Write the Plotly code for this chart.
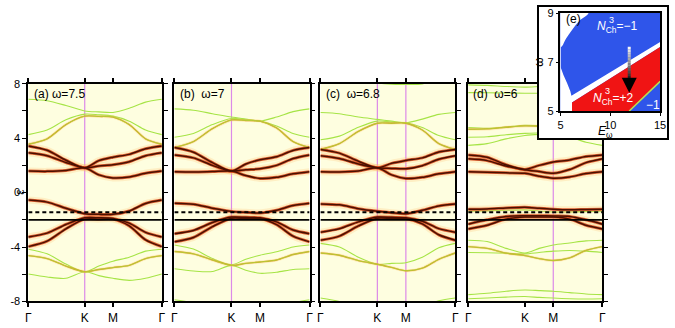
import plotly.graph_objects as go

# k-path Γ-K-M-Γ (path length in units of 1/a)
K_SAMPLE = [0, 0.444, 0.889, 1.333, 1.667, 2.0, 2.385, 2.770, 3.155]
K_TICKS = [0, 1.333, 2.0, 3.155]
K_LABELS = ['Γ', 'K', 'M', 'Γ']
E_TICKS = [-8, -6, -4, -2, 0, 2, 4, 6, 8]
E_LABELS = ['-8', '', '-4', '', '0', '', '4', '', '8']

PANEL_TAGS = ['(a) ω=7.5', '(b)  ω=7', '(c)  ω=6.8', '(d)  ω=6']
MAGENTA_K = [[1.333], [1.333], [1.333, 2.0], [2.0]]
E_DASH = -1.45
E_SOLID = -2.0

# (a) ω=7.5
A_DARK = [
    [3.43, 3.11, 2.38, 1.82, 2.35, 2.6, 2.81, 3.22, 3.43],
    [2.93, 2.71, 2.21, 1.82, 1.95, 2.05, 2.27, 2.71, 2.93],
    [1.58, 1.56, 1.62, 1.82, 1.3, 1.08, 1.15, 1.42, 1.58],
    [-0.55, -0.7, -1.15, -1.55, -1.6, -1.6, -1.35, -0.8, -0.55],
    [-3.26, -2.98, -2.34, -1.85, -1.85, -1.9, -2.24, -2.92, -3.26],
    [-3.97, -3.57, -2.66, -1.95, -1.95, -1.95, -2.45, -3.47, -3.97],
]
A_MID = [
    [3.55, 3.95, 5.0, 5.62, 5.6, 5.55, 5.0, 3.95, 3.55],
    [-4.63, -4.85, -5.4, -5.82, -5.65, -5.51, -5.35, -4.85, -4.63],
]
A_GREEN = [
    [6.86, 6.75, 6.4, 6.0, 5.93, 5.89, 6.2, 6.65, 6.86],
    [4.26, 4.6, 5.35, 5.77, 5.72, 5.62, 5.25, 4.6, 4.26],
    [-4.16, -4.5, -5.25, -5.82, -5.4, -5.04, -4.75, -4.3, -4.16],
    [-5.98, -6.2, -6.3, -5.82, -6.1, -6.3, -6.45, -6.3, -5.98],
]

# (b) ω=7
B_DARK = [
    [3.31, 2.97, 2.2, 1.58, 2.1, 2.41, 2.63, 3.1, 3.31],
    [2.77, 2.55, 2.0, 1.58, 1.68, 1.75, 2.0, 2.5, 2.77],
    [1.54, 1.52, 1.55, 1.58, 1.25, 1.04, 1.12, 1.38, 1.54],
    [-0.78, -0.85, -1.15, -1.38, -1.45, -1.5, -1.3, -0.95, -0.78],
    [-3.02, -2.78, -2.2, -1.8, -1.82, -1.85, -2.15, -2.75, -3.02],
    [-3.62, -3.3, -2.5, -1.88, -1.9, -1.9, -2.35, -3.2, -3.62],
]
B_MID = [
    [3.31, 3.75, 4.7, 5.34, 5.3, 5.25, 4.75, 3.75, 3.31],
    [-4.33, -4.5, -4.95, -5.35, -5.2, -5.1, -4.95, -4.55, -4.33],
]
B_GREEN = [
    [6.15, 6.05, 5.8, 5.55, 5.4, 5.25, 5.55, 5.95, 6.15],
    [4.07, 4.35, 5.0, 5.45, 5.35, 5.25, 4.9, 4.35, 4.07],
    [-3.85, -4.15, -4.85, -5.3, -4.9, -4.6, -4.35, -4.0, -3.85],
    [-5.6, -5.76, -5.8, -5.35, -5.7, -5.93, -5.85, -5.65, -5.6],
    [-7.88, -8.1, -8.4, -8.5, -8.5, -8.5, -8.4, -8.1, -7.88],
]

# (c) ω=6.8
C_DARK = [
    [3.17, 2.9, 2.3, 1.82, 2.15, 2.36, 2.55, 2.98, 3.17],
    [2.70, 2.5, 2.1, 1.82, 1.78, 1.75, 1.98, 2.45, 2.70],
    [1.54, 1.52, 1.58, 1.82, 1.3, 1.04, 1.12, 1.38, 1.54],
    [-0.83, -0.9, -1.18, -1.37, -1.48, -1.55, -1.3, -0.98, -0.83],
    [-2.91, -2.65, -2.15, -1.8, -1.82, -1.85, -2.1, -2.65, -2.91],
    [-3.5, -3.2, -2.45, -1.88, -1.9, -1.9, -2.3, -3.1, -3.5],
]
C_MID = [
    [3.17, 3.6, 4.5, 5.1, 5.1, 5.1, 4.6, 3.6, 3.17],
    [-4.44, -4.6, -5.0, -5.27, -5.5, -5.74, -5.55, -4.9, -4.44],
]
C_GREEN = [
    [9.0, 8.7, 8.3, 8.05, 7.96, 7.95, 7.99, 8.4, 9.0],
    [5.89, 5.8, 5.55, 5.38, 5.25, 5.13, 5.4, 5.75, 5.89],
    [3.88, 4.15, 4.8, 5.25, 5.18, 5.13, 4.78, 4.2, 3.88],
    [-3.73, -4.0, -4.75, -5.27, -5.2, -5.15, -4.75, -4.05, -3.73],
    [-7.75, -8.0, -8.3, -8.5, -8.5, -8.5, -8.3, -7.95, -7.75],
]

# (d) ω=6
D_DARK = [
    [2.77, 2.6, 2.05, 1.70, 2.0, 2.25, 2.4, 2.65, 2.77],
    [2.48, 2.35, 1.95, 1.68, 1.55, 1.42, 1.7, 2.2, 2.48],
    [1.54, 1.5, 1.45, 1.42, 1.2, 1.06, 1.15, 1.4, 1.54],
    [-1.22, -1.2, -1.13, -1.08, -1.15, -1.22, -1.26, -1.24, -1.22],
    [-2.32, -2.0, -1.75, -1.7, -1.7, -1.72, -1.75, -2.0, -2.32],
    [-2.67, -2.4, -1.95, -1.8, -1.8, -1.8, -1.95, -2.4, -2.67],
]
D_MID = [
    [4.66, 4.68, 4.8, 4.9, 4.88, 4.85, 4.8, 4.7, 4.66],
    [-3.97, -4.1, -4.45, -4.63, -4.85, -4.99, -4.8, -4.25, -3.97],
]
D_GREEN = [
    [7.92, 7.88, 7.8, 7.75, 7.8, 7.85, 7.9, 7.92, 7.92],
    [7.35, 7.34, 7.32, 7.3, 7.3, 7.3, 7.32, 7.34, 7.35],
    [4.78, 4.72, 4.82, 4.95, 4.92, 4.9, 4.85, 4.8, 4.78],
    [4.07, 4.1, 4.25, 4.35, 4.38, 4.4, 4.3, 4.15, 4.07],
    [3.47, 3.6, 3.95, 4.2, 4.28, 4.3, 4.1, 3.7, 3.47],
    [-1.36, -1.34, -1.3, -1.27, -1.35, -1.42, -1.42, -1.39, -1.36],
    [-3.5, -3.6, -4.1, -4.44, -4.1, -3.85, -3.7, -3.55, -3.5],
    [-4.4, -4.42, -4.45, -4.5, -4.4, -4.3, -4.25, -4.3, -4.4],
    [-7.5, -7.4, -7.25, -7.16, -7.2, -7.25, -7.35, -7.45, -7.5],
    [-7.8, -7.75, -7.68, -7.64, -7.7, -7.75, -7.8, -7.82, -7.8],
]

PANELS = [(A_DARK, A_MID, A_GREEN), (B_DARK, B_MID, B_GREEN),
          (C_DARK, C_MID, C_GREEN), (D_DARK, D_MID, D_GREEN)]

# (e) phase diagram, E_omega vs omega
BOX_E = [5, 15, 15, 5]
BOX_W = [5, 5, 9, 9]
WHITE_TOP_E = [5, 7.8, 6.9, 6.16, 5.55, 5.17, 5]
WHITE_TOP_W = [9, 9, 8.68, 8.31, 7.95, 7.65, 7.6]
WHITE_LOW_E = [5, 5, 5.3, 5.66, 5.99, 6.1, 15, 15, 6.16, 6.16]
WHITE_LOW_W = [5, 6.81, 6.47, 6.14, 5.81, 5.62, 7.82, 7.61, 5.35, 5]
RED_E = [6.16, 6.16, 15, 15, 11.9]
RED_W = [5, 5.35, 7.61, 6.21, 5]
EDGE_E = [11.9, 15]
EDGE_W = [5, 6.21]
ARROW_E = 11.9
ARROW_W = [7.62, 5.75]

PANEL_X = [[0.038, 0.2385], [0.2573, 0.4603], [0.4766, 0.679], [0.6985, 0.9]]
PANEL_Y = [0.065, 0.754]

FONT = 'Liberation Sans, Arial, sans-serif'
YELLOW = '#fefee0'

STYLES = {
    'dark': [('rgba(255,185,95,0.22)', 7), ('rgba(215,70,25,0.85)', 3.0), ('#4a1000', 1.5)],
    'mid': [('rgba(255,200,100,0.3)', 3), ('#d9a028', 1.4), ('#a8dc3c', 0.7)],
    'green': [('#a6e446', 1.1)],
}

fig = go.Figure()
shapes = []
annotations = []

for i, (dark, mid, green) in enumerate(PANELS):
    n = '' if i == 0 else str(i + 1)
    xa, ya = 'x' + n, 'y' + n
    shapes.append(dict(type='rect', xref=xa, yref=ya, x0=K_TICKS[0], x1=K_TICKS[-1],
                       y0=-8, y1=8, fillcolor=YELLOW, line_width=0, layer='below'))
    for k in MAGENTA_K[i]:
        shapes.append(dict(type='line', xref=xa, yref=ya, x0=k, x1=k, y0=-8, y1=8,
                           line=dict(color='#dc8ae8', width=1.2), layer='below'))
    groups = [('green', green), ('mid', mid), ('dark', dark)]
    # draw layer by layer so cores sit above the glows
    for level in range(3):
        for style, bands in groups:
            if level >= len(STYLES[style]):
                continue
            color, width = STYLES[style][level]
            for band in bands:
                fig.add_trace(go.Scatter(
                    x=K_SAMPLE, y=band, mode='lines', xaxis=xa, yaxis=ya,
                    line=dict(color=color, width=width, shape='spline', smoothing=0.8),
                    hoverinfo='skip'))
    shapes.append(dict(type='line', xref=xa, yref=ya, x0=K_TICKS[0], x1=K_TICKS[-1],
                       y0=E_SOLID, y1=E_SOLID, line=dict(color='black', width=1.8)))
    shapes.append(dict(type='line', xref=xa, yref=ya, x0=K_TICKS[0], x1=K_TICKS[-1],
                       y0=E_DASH, y1=E_DASH, line=dict(color='black', width=2, dash='4px,3px')))
    annotations.append(dict(text=PANEL_TAGS[i], xref=xa + ' domain', yref=ya + ' domain',
                            x=0.024, y=0.954, xanchor='left', yanchor='middle', showarrow=False,
                            font=dict(family=FONT, size=12, color='black')))

# frame of the inset (own subplot so that it hides panel d beneath it)
fig.add_trace(go.Scatter(x=[None], y=[None], xaxis='x5', yaxis='y5', hoverinfo='skip'))

# inset (e)
fig.add_trace(go.Scatter(x=BOX_E, y=BOX_W, fill='toself', fillcolor='#2f55ea', mode='none',
                         xaxis='x6', yaxis='y6', hoverinfo='skip'))
fig.add_trace(go.Scatter(x=WHITE_TOP_E, y=WHITE_TOP_W, fill='toself', fillcolor='white', mode='none',
                         line_shape='spline', xaxis='x6', yaxis='y6', hoverinfo='skip'))
fig.add_trace(go.Scatter(x=WHITE_LOW_E, y=WHITE_LOW_W, fill='toself', fillcolor='white', mode='none',
                         xaxis='x6', yaxis='y6', hoverinfo='skip'))
fig.add_trace(go.Scatter(x=RED_E, y=RED_W, fill='toself', fillcolor='#f01414', mode='none',
                         xaxis='x6', yaxis='y6', hoverinfo='skip'))
fig.add_trace(go.Scatter(x=EDGE_E, y=EDGE_W, mode='lines', line=dict(color='#b8e050', width=1.5),
                         xaxis='x6', yaxis='y6', hoverinfo='skip'))

# white-to-black arrow
nseg = 14
top, tip = ARROW_W
shaft_end = tip + 0.35
for s in range(nseg):
    w0 = top - (top - shaft_end) * s / nseg
    w1 = top - (top - shaft_end) * (s + 1) / nseg
    g = int(245 * (1 - s / (nseg - 1)))
    shapes.append(dict(type='line', xref='x6', yref='y6', x0=ARROW_E, x1=ARROW_E, y0=w0, y1=w1,
                       line=dict(color='rgb(%d,%d,%d)' % (g, g, g), width=3)))
annotations.append(dict(x=ARROW_E, y=tip, ax=ARROW_E, ay=shaft_end + 0.05, xref='x6', yref='y6',
                        axref='x6', ayref='y6', text='', showarrow=True, arrowhead=2,
                        arrowsize=1, arrowwidth=3, arrowcolor='black'))

inset_font = dict(family=FONT, size=12, color='white')
annotations += [
    dict(text='(e)', x=5.35, y=8.75, xref='x6', yref='y6', xanchor='left', showarrow=False,
         font=dict(family=FONT, size=12, color='black')),
    dict(text='<i>N</i><sub>Ch</sub>=−1', x=10.7, y=8.42, xref='x6', yref='y6', showarrow=False,
         font=inset_font),
    dict(text='3', x=10.1, y=8.72, xref='x6', yref='y6', showarrow=False,
         font=dict(family=FONT, size=9, color='white')),
    dict(text='<i>N</i><sub>Ch</sub>=+2', x=10.3, y=5.5, xref='x6', yref='y6', showarrow=False,
         font=inset_font),
    dict(text='3', x=9.7, y=5.8, xref='x6', yref='y6', showarrow=False,
         font=dict(family=FONT, size=9, color='white')),
    dict(text='−1', x=14.3, y=5.26, xref='x6', yref='y6', showarrow=False, font=inset_font),
    dict(text='<i>E</i><sub>ω</sub>', x=620 / 675, y=1 - 131 / 328, xref='paper', yref='paper',
         showarrow=False, font=dict(family=FONT, size=12, color='black')),
    dict(text='ε', x=8 / 675, y=1 - 193 / 328, xref='paper', yref='paper', textangle=-90,
         showarrow=False, font=dict(family=FONT, size=12, color='black')),
]

layout = dict(width=675, height=328, margin=dict(l=0, r=0, t=0, b=0),
              paper_bgcolor='white', plot_bgcolor='white', showlegend=False,
              shapes=shapes, annotations=annotations,
              font=dict(family=FONT, color='black'))

axis_common = dict(showline=True, linecolor='black', showgrid=False, zeroline=False,
                   ticks='outside', tickcolor='black', fixedrange=True)

for i in range(4):
    n = '' if i == 0 else str(i + 1)
    layout['xaxis' + n] = dict(axis_common, domain=PANEL_X[i], range=[K_TICKS[0], K_TICKS[-1]],
                               anchor='y' + n, tickvals=K_TICKS, ticktext=K_LABELS,
                               mirror='ticks', linewidth=2, ticklen=4, tickwidth=1.5,
                               tickfont=dict(size=12))
    ydict = dict(axis_common, domain=PANEL_Y, range=[-8, 8], anchor='x' + n,
                 tickvals=E_TICKS, linewidth=1.8, ticklen=4, tickwidth=1.3)
    if i == 0:
        ydict.update(side='left', mirror='ticks', ticktext=E_LABELS, tickfont=dict(size=11))
    else:
        ydict.update(side='right', mirror=True, showticklabels=False)
    layout['yaxis' + n] = ydict

layout['xaxis5'] = dict(domain=[543 / 675, 673 / 675], range=[0, 1], anchor='y5',
                        showline=True, mirror=True, linewidth=2, linecolor='black',
                        showgrid=False, zeroline=False, showticklabels=False, fixedrange=True)
layout['yaxis5'] = dict(domain=[1 - 137 / 328, 1 - 1 / 328], range=[0, 1], anchor='x5',
                        showline=True, mirror=True, linewidth=2, linecolor='black',
                        showgrid=False, zeroline=False, showticklabels=False, fixedrange=True)
layout['xaxis6'] = dict(axis_common, domain=[565 / 675, 666 / 675], range=[5, 15], anchor='y6',
                        tickvals=[5, 10, 15], mirror=True, linewidth=1.5, ticklen=3,
                        tickfont=dict(size=11))
layout['yaxis6'] = dict(axis_common, domain=[1 - 109 / 328, 1 - 7.3 / 328], range=[5, 9],
                        anchor='x6', tickvals=[5, 7, 9], mirror=True, linewidth=1.5, ticklen=3,
                        tickfont=dict(size=11),
                        title=dict(text='ω', standoff=1, font=dict(family=FONT, size=12)))

fig.update_layout(layout)
# the page body has a default 8px margin; drop it so the figure sits at the window corner
fig.write_html('out.html', config={'displayModeBar': False},
               post_script="document.body.style.margin='0';")
